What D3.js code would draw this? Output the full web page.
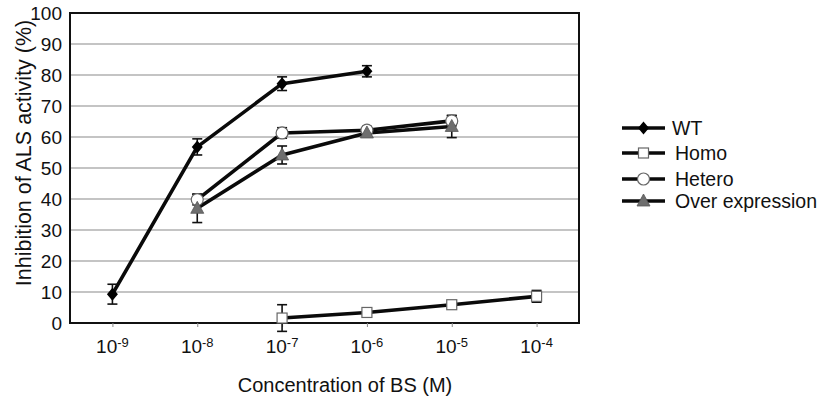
<!DOCTYPE html>
<html>
<head>
<meta charset="utf-8">
<script src="https://cdn.jsdelivr.net/npm/d3@7/dist/d3.min.js"></script>
<style>
  body { margin: 0; background: #fff; }
  text { font-family: "Liberation Sans", Arial, sans-serif; fill: #111; }
</style>
</head>
<body>
<div id="chart"></div>
<script>
// exponents of the concentration (10^x M)
var exponents = [-9, -8, -7, -6, -5, -4];
var yTicks = [0, 10, 20, 30, 40, 50, 60, 70, 80, 90, 100];

var wtX = [-9, -8, -7, -6];
var wtY = [9.3, 56.8, 77.2, 81.2];
var wtErr = [3.2, 2.6, 2.2, 1.8];

var homoX = [-7, -6, -5, -4];
var homoY = [1.6, 3.4, 5.9, 8.6];
var homoErr = [4.3, 0.8, 0.6, 1.9];

var heteroX = [-8, -7, -6, -5];
var heteroY = [39.8, 61.3, 62.2, 65.2];
var heteroErr = [1.7, 1.7, 1.2, 1.6];

var overX = [-8, -7, -6, -5];
var overY = [37.0, 54.2, 61.3, 63.4];
var overErr = [4.6, 2.9, 1.2, 3.6];

var seriesNames = ["WT", "Homo", "Hetero", "Over expression"];

var width = 823, height = 400;
var margin = {left: 70, right: 244, top: 13, bottom: 77};

var svg = d3.select("#chart").append("svg")
	.attr("width", width)
	.attr("height", height);

var x = d3.scaleLinear()
	.domain([-9.5, -3.5])
	.range([margin.left, width - margin.right]);

var y = d3.scaleLinear()
	.domain([0, 100])
	.range([height - margin.bottom, margin.top]);

// grid lines
svg.append("g")
	.selectAll("line")
	.data(yTicks.slice(1, -1))
	.enter().append("line")
		.attr("x1", x(-9.5))
		.attr("x2", x(-3.5))
		.attr("y1", function(d) { return y(d); })
		.attr("y2", function(d) { return y(d); })
		.style("stroke", "#8a8a8a")
		.style("stroke-width", 1.2);

// frame
svg.append("rect")
	.attr("x", x(-9.5))
	.attr("y", y(100))
	.attr("width", x(-3.5) - x(-9.5))
	.attr("height", y(0) - y(100))
	.style("fill", "none")
	.style("stroke", "#111")
	.style("stroke-width", 2);

// y axis labels
var yAxis = svg.append("g")
	.attr("transform", "translate(" + margin.left + ",0)")
	.call(d3.axisLeft(y).tickValues(yTicks).tickSize(0).tickPadding(8));
yAxis.select(".domain").remove();
yAxis.selectAll("text")
	.style("font-size", "19px")
	.style("font-family", "'Liberation Sans', Arial, sans-serif")
	.attr("fill", "#111");

// x axis ticks
var xAxis = svg.append("g")
	.attr("transform", "translate(0," + y(0) + ")")
	.call(d3.axisBottom(x).tickValues(exponents).tickSize(4).tickFormat(""));
xAxis.select(".domain").remove();
xAxis.selectAll("line").style("stroke", "#888");

var xLabels = svg.append("g")
	.selectAll("text")
	.data(exponents)
	.enter().append("text")
		.attr("x", function(d) { return x(d); })
		.attr("y", 353)
		.attr("text-anchor", "middle")
		.style("font-size", "19px");
xLabels.append("tspan").text("10");
xLabels.append("tspan")
	.attr("dy", -6)
	.style("font-size", "13px")
	.text(function(d) { return d; });

// axis titles
svg.append("text")
	.attr("x", 345)
	.attr("y", 392)
	.attr("text-anchor", "middle")
	.style("font-size", "20px")
	.text("Concentration of BS (M)");

svg.append("text")
	.attr("transform", "translate(31,153) rotate(-90)")
	.attr("text-anchor", "middle")
	.style("font-size", "21.5px")
	.text("Inhibition of ALS activity (%)");

var line = d3.line()
	.x(function(d) { return x(d[0]); })
	.y(function(d) { return y(d[1]); });

function drawLine(pts) {
	svg.append("path")
		.datum(pts)
		.attr("d", line)
		.style("fill", "none")
		.style("stroke", "#0a0a0a")
		.style("stroke-width", 3.6)
		.style("stroke-linejoin", "round");
}

function drawErrors(pts) {
	var eb = svg.append("g")
		.selectAll("g")
		.data(pts)
		.enter().append("g")
			.style("stroke", "#111")
			.style("stroke-width", 1.6);
	eb.append("line")
		.attr("x1", function(d) { return x(d[0]); })
		.attr("x2", function(d) { return x(d[0]); })
		.attr("y1", function(d) { return y(d[1] + d[2]); })
		.attr("y2", function(d) { return y(d[1] - d[2]); });
	eb.append("line")
		.attr("x1", function(d) { return x(d[0]) - 5; })
		.attr("x2", function(d) { return x(d[0]) + 5; })
		.attr("y1", function(d) { return y(d[1] + d[2]); })
		.attr("y2", function(d) { return y(d[1] + d[2]); });
	eb.append("line")
		.attr("x1", function(d) { return x(d[0]) - 5; })
		.attr("x2", function(d) { return x(d[0]) + 5; })
		.attr("y1", function(d) { return y(d[1] - d[2]); })
		.attr("y2", function(d) { return y(d[1] - d[2]); });
}

function marker(g, name) {
	if (name === "WT") {
		g.append("path").attr("d", "M0,-6.5L5.5,0L0,6.5L-5.5,0Z").style("fill", "#000");
	} else if (name === "Homo") {
		g.append("rect").attr("x", -5).attr("y", -5).attr("width", 10).attr("height", 10)
			.style("fill", "#fff").style("stroke", "#666").style("stroke-width", 1.2);
	} else if (name === "Hetero") {
		g.append("circle").attr("r", 6)
			.style("fill", "#fff").style("stroke", "#666").style("stroke-width", 1.2);
	} else {
		g.append("path").attr("d", "M0,-7L6.5,5L-6.5,5Z")
			.style("fill", "#6e6e6e").style("stroke", "#555").style("stroke-width", 0.8);
	}
}

var allSeries = [
	[wtX, wtY, wtErr],
	[homoX, homoY, homoErr],
	[heteroX, heteroY, heteroErr],
	[overX, overY, overErr]
].map(function(s) {
	return s[0].map(function(v, i) { return [v, s[1][i], s[2][i]]; });
});

allSeries.forEach(drawLine);
allSeries.forEach(drawErrors);

allSeries.forEach(function(pts, k) {
	svg.append("g")
		.selectAll("g")
		.data(pts)
		.enter().append("g")
			.attr("transform", function(d) { return "translate(" + x(d[0]) + "," + y(d[1]) + ")"; })
			.each(function() { marker(d3.select(this), seriesNames[k]); });
});

// legend
var legendY = [128, 153, 179, 201];
var legend = svg.append("g")
	.selectAll("g")
	.data(seriesNames)
	.enter().append("g")
		.attr("transform", function(d, i) { return "translate(622," + legendY[i] + ")"; });
legend.append("line")
	.attr("x1", 0).attr("x2", 43)
	.style("stroke", "#0a0a0a")
	.style("stroke-width", 3.6);
legend.append("g")
	.attr("transform", "translate(21.5,0)")
	.each(function(d) { marker(d3.select(this), d); });
legend.append("text")
	.attr("x", function(d) { return d === "WT" ? 50 : 53; })
	.attr("y", 7)
	.style("font-size", "19.5px")
	.text(function(d) { return d; });
</script>
</body>
</html>
